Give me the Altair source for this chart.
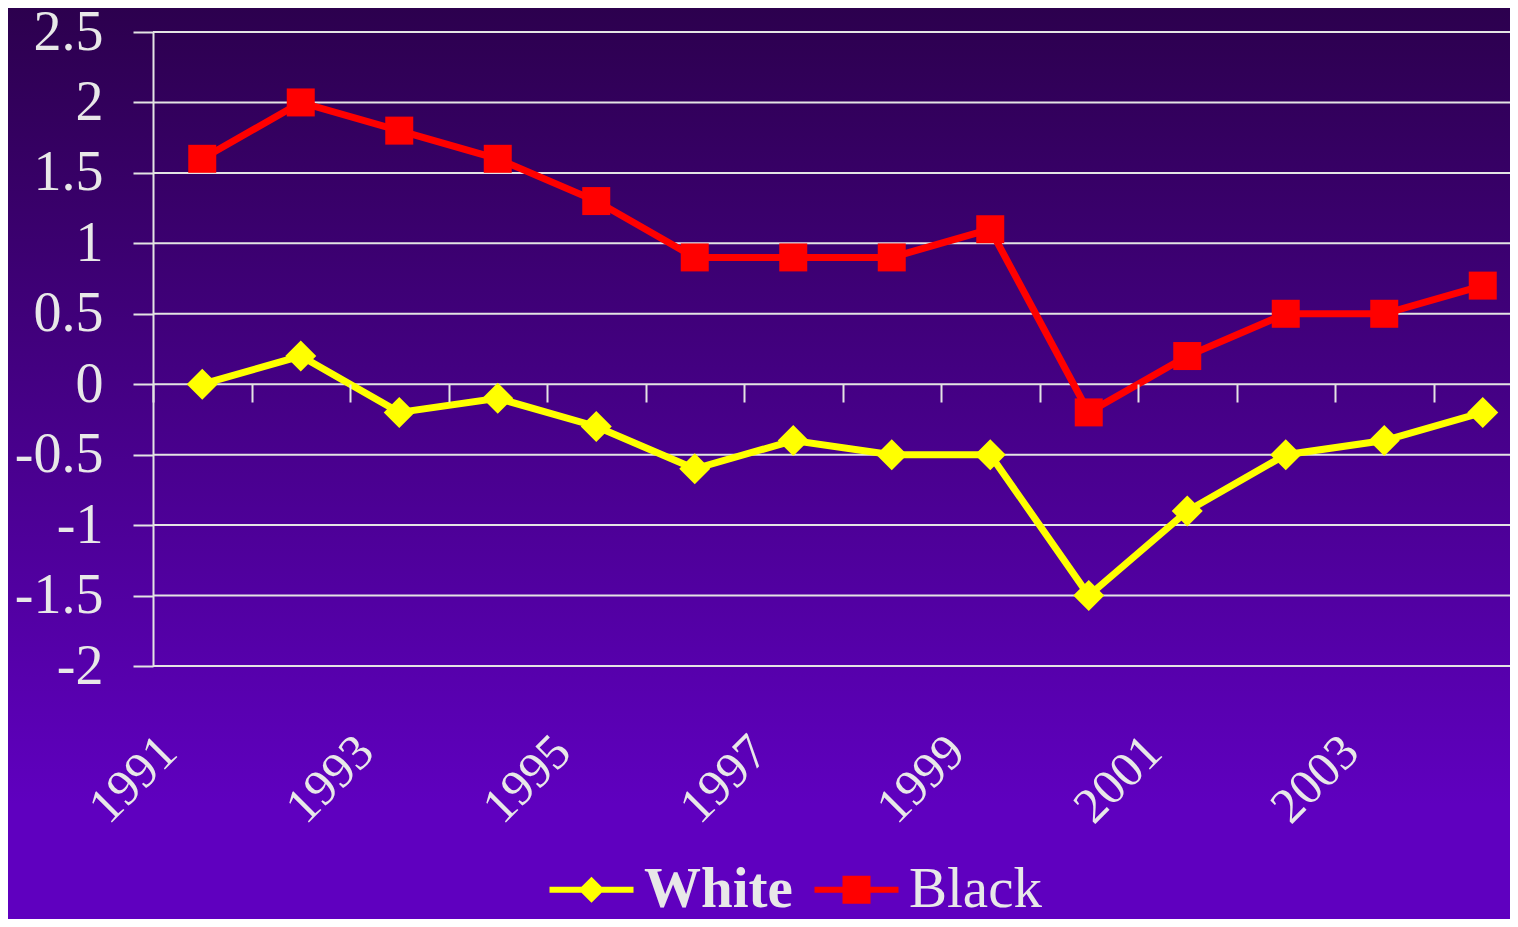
import altair as alt
import pandas as pd

# ---- data ----
years = list(range(1991, 2005))
white = [0.0, 0.2, -0.2, -0.1, -0.3, -0.6, -0.4, -0.5, -0.5, -1.5, -0.9, -0.5, -0.4, -0.2]
black = [1.6, 2.0, 1.8, 1.6, 1.3, 0.9, 0.9, 0.9, 1.1, -0.2, 0.2, 0.5, 0.5, 0.7]
series_names = ["White", "Black"]
series_colors = ["#ffff00", "#ff0000"]
y_ticks = [-2, -1.5, -1, -0.5, 0, 0.5, 1, 1.5, 2, 2.5]
label_years = [1991, 1993, 1995, 1997, 1999, 2001, 2003]

rows = []
for name, vals in zip(series_names, [white, black]):
    for yr, v in zip(years, vals):
        rows.append({"year": yr, "value": v, "series": name})
df = pd.DataFrame(rows)
grid_df = pd.DataFrame({"value": y_ticks})

# ---- style ----
W, H = 1379, 634
PAD_L, PAD_T = 145, 24
TOTAL_W, TOTAL_H = 1502, 911
FONT = "Liberation Serif"
TXT = "#e8e8e8"
GRID = "#e4e4e4"
TOP_BG = "#2c004e"
BOT_BG = "#5f00bf"

x_scale = alt.Scale(type="band", domain=years, paddingInner=0, paddingOuter=0)
y_scale = alt.Scale(domain=[-2, 2.5], nice=False, zero=False)

y_axis = alt.Axis(values=y_ticks, labelExpr="datum.value + ''", title=None, grid=False,
                  domain=True, domainColor=GRID, domainWidth=2,
                  ticks=True, tickSize=20, tickColor=GRID, tickWidth=2,
                  labelFont=FONT, labelFontSize=56, labelColor=TXT, labelPadding=30,
                  labelFlush=False, labelOverlap=False, zindex=1)

tick_axis = alt.Axis(orient="bottom", offset=-282, labels=False, domain=False,
                     ticks=True, tickBand="extent", tickSize=18, tickColor=GRID,
                     tickWidth=2, grid=False, title=None, zindex=1)

label_axis = alt.Axis(orient="bottom", values=label_years, labelAngle=-45,
                      labelAlign="right", labelBaseline="top", labelFont=FONT,
                      labelFontSize=50, labelColor=TXT, labelPadding=60,
                      labelOffset=-51, labelOverlap=False, domain=False,
                      ticks=False, grid=False, title=None, zindex=1)

diamond_path = ("M-2,-0.143L-0.477,-0.143L0,-0.62L0.477,-0.143L2,-0.143L2,0.143"
                "L0.477,0.143L0,0.62L-0.477,0.143L-2,0.143Z")
square_path = ("M-2,-0.143L-0.667,-0.143L-0.667,-0.667L0.667,-0.667L0.667,-0.143"
               "L2,-0.143L2,0.143L0.667,0.143L0.667,0.667L-0.667,0.667L-0.667,0.143"
               "L-2,0.143Z")

legend = alt.Legend(
    orient="none", legendX=410, legendY=829, direction="horizontal", columns=2,
    title=None, padding=0, columnPadding=21,
    symbolType=alt.ExprRef(f"datum.value == 'White' ? '{diamond_path}' : '{square_path}'"),
    symbolSize=1764, symbolStrokeWidth=0, symbolOpacity=1,
    labelFont=FONT, labelFontSize=57, labelColor=TXT, labelOffset=24,
    labelFontWeight=alt.ExprRef("datum.value == 'White' ? 'bold' : 'normal'"),
)

color_scale = alt.Scale(domain=series_names, range=series_colors)
# reversed order on purpose so this (legend-less) scale is not merged with the colour legend
stroke_scale = alt.Scale(domain=series_names[::-1], range=series_colors[::-1])

gradient = alt.LinearGradient(
    gradient="linear",
    stops=[alt.GradientStop(color=TOP_BG, offset=0),
           alt.GradientStop(color=BOT_BG, offset=0.87),
           alt.GradientStop(color=BOT_BG, offset=1)],
    x1=0, x2=0, y1=0, y2=1,
)

bg = alt.Chart(pd.DataFrame({"k": [0]})).mark_rect(color=gradient).encode(
    x=alt.value(-PAD_L), x2=alt.value(W + 5),
    y=alt.value(-PAD_T), y2=alt.value(TOTAL_H - PAD_T + 5),
)

grid = alt.Chart(grid_df).mark_rule(color=GRID, strokeWidth=2).encode(
    y=alt.Y("value:Q", scale=y_scale, axis=y_axis),
    x=alt.value(0), x2=alt.value(W),
)

lines = alt.Chart(df).mark_line(strokeWidth=7).encode(
    x=alt.X("year:O", scale=x_scale, axis=tick_axis, bandPosition=0.5),
    y=alt.Y("value:Q", scale=y_scale, axis=y_axis),
    stroke=alt.Stroke("series:N", scale=stroke_scale, legend=None),
)

pts_white = alt.Chart(df).transform_filter(alt.datum.series == "White").mark_point(
    shape="diamond", filled=True, size=961, opacity=1, strokeWidth=0
).encode(
    x=alt.X("year:O", scale=x_scale, axis=label_axis, bandPosition=0.5),
    y=alt.Y("value:Q", scale=y_scale, axis=y_axis),
    color=alt.Color("series:N", scale=color_scale, legend=legend),
)

pts_black = alt.Chart(df).transform_filter(alt.datum.series == "Black").mark_point(
    shape="square", filled=True, size=784, opacity=1, strokeWidth=0
).encode(
    x=alt.X("year:O", scale=x_scale, axis=None, bandPosition=0.5),
    y=alt.Y("value:Q", scale=y_scale, axis=y_axis),
    color=alt.Color("series:N", scale=color_scale, legend=legend),
)

chart = alt.layer(bg, grid, lines, pts_white, pts_black).resolve_axis(
    x="independent"
).properties(
    width=W, height=H,
    padding={"left": PAD_L, "top": PAD_T, "right": TOTAL_W - PAD_L - W,
             "bottom": TOTAL_H - PAD_T - H},
    autosize=alt.AutoSizeParams(type="none"),
    background=TOP_BG,
).configure_view(stroke=None)

chart.save("out.html", embed_options={"renderer": "svg", "actions": False})
